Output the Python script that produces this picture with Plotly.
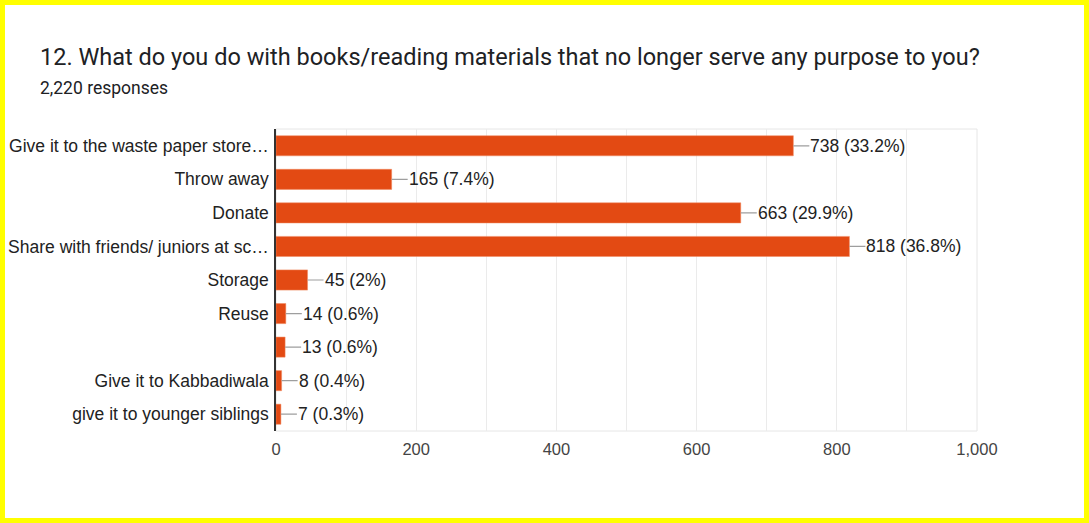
import plotly.graph_objects as go

categories = ["Give it to the waste paper store…", "Throw away", "Donate",
              "Share with friends/ juniors at sc…", "Storage", "Reuse", "",
              "Give it to Kabbadiwala", "give it to younger siblings"]
counts = [738, 165, 663, 818, 45, 14, 13, 8, 7]
percents = ["33.2%", "7.4%", "29.9%", "36.8%", "2%", "0.6%", "0.6%", "0.4%", "0.3%"]
x_ticks = [0, 200, 400, 600, 800, 1000]
x_tick_text = ["0", "200", "400", "600", "800", "1,000"]

W, H = 1089, 523
ML, MR, MT, MB = 276, 112, 129, 92
PW, PH = W - ML - MR, H - MT - MB

ypos = list(range(len(categories)))

fig = go.Figure(go.Bar(
    x=counts, y=ypos, orientation="h",
    marker=dict(color="#e34a13", line=dict(color="#f08a60", width=0.5)),
    width=0.6, hoverinfo="skip"))

anns = []
for c, p, y in zip(counts, percents, ypos):
    anns.append(dict(x=c, y=y, xref="x", yref="y", text=f"{c} ({p})",
                     showarrow=True, arrowhead=0, arrowwidth=1.2, arrowcolor="#9e9e9e",
                     ax=16, ay=0, xanchor="left", yanchor="middle", borderpad=0,
                     font=dict(family="Liberation Sans, Arial", size=17.5, color="#222222")))

anns.append(dict(xref="paper", yref="paper", x=(38 - ML) / PW, y=1 + (MT - 57) / PH,
                 text="12. What do you do with books/reading materials that no longer serve any purpose to you?",
                 showarrow=False, xanchor="left", yanchor="middle",
                 font=dict(family="Roboto", size=23.5, color="#202124")))
anns.append(dict(xref="paper", yref="paper", x=(38 - ML) / PW, y=1 + (MT - 88) / PH,
                 text="2,220 responses", showarrow=False, xanchor="left", yanchor="middle",
                 font=dict(family="Roboto", size=17.5, color="#202124")))

fig.update_layout(
    width=W, height=H, margin=dict(l=ML, r=MR, t=MT, b=MB, autoexpand=False),
    paper_bgcolor="white", plot_bgcolor="white", showlegend=False,
    annotations=anns,
    shapes=[
        dict(type="rect", xref="paper", yref="paper", x0=0, x1=1, y0=0, y1=1,
             line=dict(color="#e6e6e6", width=1), layer="below"),
        dict(type="rect", xref="paper", yref="paper",
             x0=(2.5 - ML) / PW, x1=1 + (MR - 2.5) / PW,
             y0=-(MB - 2.5) / PH, y1=1 + (MT - 2.5) / PH,
             line=dict(color="#ffff00", width=5), layer="above"),
    ],
)
fig.update_xaxes(range=[0, 1000], tickvals=x_ticks, ticktext=x_tick_text, automargin=False,
                 showgrid=True, gridcolor="#ebebeb", gridwidth=1,
                 minor=dict(showgrid=True, gridcolor="#ebebeb", gridwidth=1, tickvals=list(range(100, 1000, 200))),
                 zeroline=False, showline=False, ticks="", ticklabelstandoff=6,
                 tickfont=dict(family="Liberation Sans, Arial", size=16.5, color="#444444"))
fig.update_yaxes(range=[len(categories) - 0.5, -0.5], tickvals=ypos, ticktext=categories, automargin=False,
                 showgrid=False, zeroline=False, showline=True, linecolor="#333333", linewidth=1.5,
                 ticks="", ticklabelstandoff=2,
                 tickfont=dict(family="Liberation Sans, Arial", size=17.5, color="#222222"))

fig.write_html("out.html")
